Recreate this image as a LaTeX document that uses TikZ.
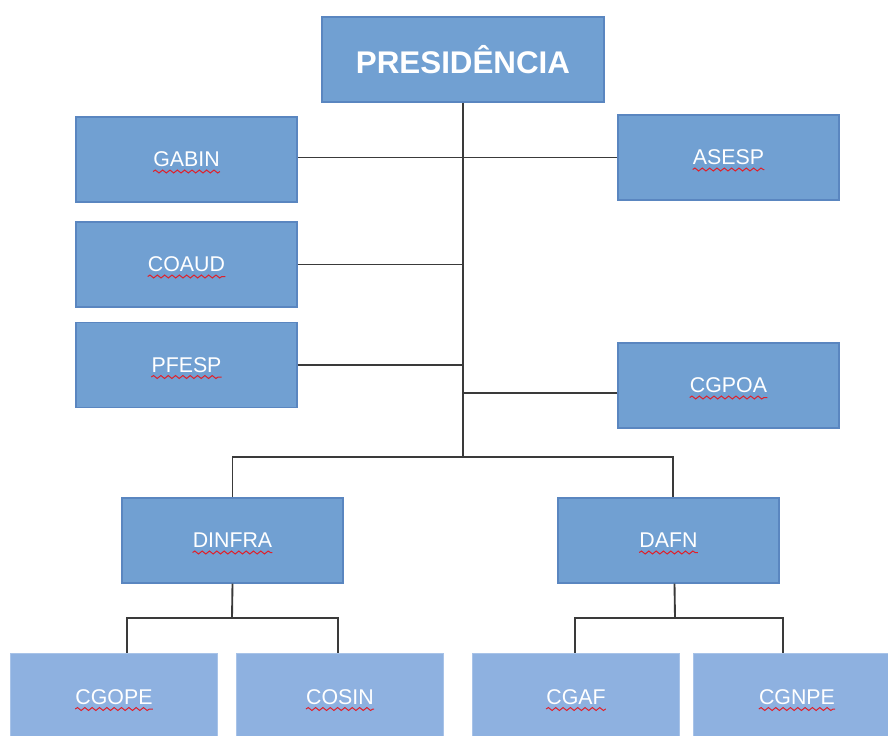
\documentclass[tikz,border=0pt]{standalone}
\usepackage{fontspec}
\usetikzlibrary{decorations.pathmorphing}
\setmainfont{Liberation Sans}
\definecolor{boxfill}{HTML}{71A0D2}
\definecolor{boxline}{HTML}{5A86C0}
\definecolor{lightfill}{HTML}{8EB1E0}
\definecolor{lightline}{HTML}{A8C3E8}
\definecolor{linkgray}{HTML}{3A3A3A}
\definecolor{spellred}{HTML}{E0202A}
\newcommand{\spellmark}[1]{\tikz[baseline=(word.base)]{%
    \node[inner sep=0pt,draw=none,fill=none,minimum width=0pt,minimum height=0pt] (word) {#1};
    \draw[overlay,spellred,line width=0.75pt,decorate,
        decoration={snake,segment length=5.5pt,amplitude=1.1pt}]
        ([yshift=-3.5pt]word.base west) -- ([yshift=-3.5pt]word.base east);}}
\begin{document}
\begin{tikzpicture}[x=0.75pt,y=-0.75pt]
    \tikzset{unit/.style={draw=boxline,fill=boxfill,line width=0.9pt,text=white,
        minimum width=165.75pt,minimum height=63.75pt,
        font=\fontsize{16}{18}\selectfont}}
    \tikzset{sub/.style={unit,draw=lightline,fill=lightfill,line width=0.6pt,
        minimum width=155.25pt,minimum height=66pt}}
    \tikzset{link/.style={draw=linkgray,line width=1.4pt}}
    \useasboundingbox (0,0) rectangle (888,735);
    \clip (0,0) rectangle (888,735);
    \draw (463,59.5) node[unit,minimum width=211.5pt,
        font=\fontsize{23.5}{28}\selectfont\bfseries] (pres) {PRESIDÊNCIA};
    \draw (186.5,159.5) node[unit] (gabin) {\spellmark{GABIN}};
    \draw (728.5,157.5) node[unit] (asesp) {\spellmark{ASESP}};
    \draw (186.5,264.5) node[unit] (coaud) {\spellmark{COAUD}};
    \draw (186.5,365) node[unit] (pfesp) {\spellmark{PFESP}};
    \draw (728.5,385.5) node[unit] (cgpoa) {\spellmark{CGPOA}};
    \draw (232.5,540.5) node[unit] (dinfra) {\spellmark{DINFRA}};
    \draw (668.5,540.5) node[unit] (dafn) {\spellmark{DAFN}};
    \draw (114,697) node[sub] (cgope) {\spellmark{CGOPE}};
    \draw (340,697) node[sub] (cosin) {\spellmark{COSIN}};
    \draw (576,697) node[sub] (cgaf) {\spellmark{CGAF}};
    \draw (797,697) node[sub] (cgnpe) {\spellmark{CGNPE}};
    \coordinate (hub) at (463,457);
    \coordinate (dinfrabus) at (232,618);
    \coordinate (dafnbus) at (675,618);
    \coordinate (cgpoaport) at ([yshift=-5.6pt]cgpoa.west);
    \draw[link] (pres) -- (hub);
    \draw[link] (asesp.west) -- (asesp.west -| gabin.east);
    \draw[link] (coaud) -- (coaud -| pres);
    \draw[link] (pfesp) -- (pfesp -| pres);
    \draw[link] (cgpoaport) -- (cgpoaport -| pres);
    \draw[link] (dinfra.north) |- (hub) -| ([xshift=3.4pt]dafn.north);
    \draw[link] (dinfra.south) -- (dinfrabus);
    \draw[link] ([xshift=9.75pt]cgope.north) |- (dinfrabus) -| ([xshift=-1.5pt]cosin.north);
    \draw[link] ([xshift=4.5pt]dafn.south) -- (dafnbus);
    \draw[link] ([xshift=-0.75pt]cgaf.north) |- (dafnbus) -| ([xshift=-10.5pt]cgnpe.north);
\end{tikzpicture}
\end{document}
